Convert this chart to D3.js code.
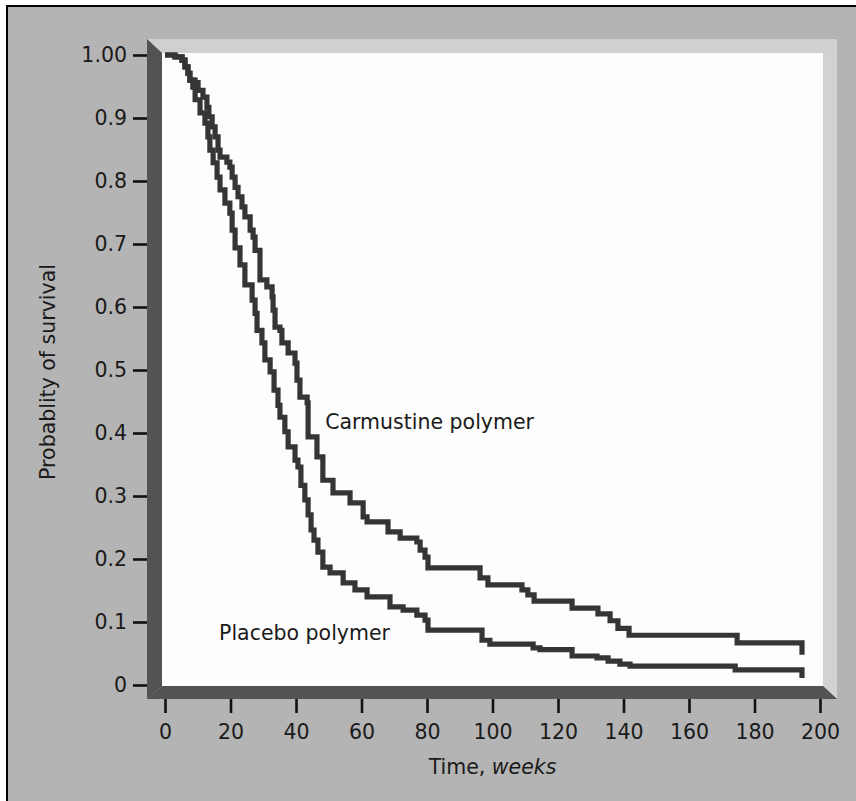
<!DOCTYPE html>
<html>
<head>
<meta charset="utf-8">
<script src="https://cdn.jsdelivr.net/npm/d3@7"></script>
<style>
  html, body { margin: 0; padding: 0; background: #ffffff; }
  svg { display: block; }
  text { font-family: "DejaVu Sans", sans-serif; fill: #1a1a1a; }
</style>
</head>
<body>
<svg id="chart" width="856" height="801"></svg>
<script>
// ---- data ----
const xTicks = [0, 20, 40, 60, 80, 100, 120, 140, 160, 180, 200];
const yTicks = [1.0, 0.9, 0.8, 0.7, 0.6, 0.5, 0.4, 0.3, 0.2, 0.1, 0];
const yTickLabels = ["1.00", "0.9", "0.8", "0.7", "0.6", "0.5", "0.4", "0.3", "0.2", "0.1", "0"];

const carmustineWeeks = [0, 3.05, 5.2, 6.1, 7.0, 7.6, 9.2, 10.1, 11.6, 12.8, 13.4, 14.4, 15.3, 16.2, 16.8,
  18.9, 19.8, 20.5, 21.4, 22.3, 23.5, 24.4, 26.0, 26.9, 27.5, 29.0, 31.1, 32.7, 33.0, 33.6,
  35.1, 35.7, 37.6, 39.7, 40.3, 41.2, 43.4, 43.7, 46.4, 48.2, 51.3, 56.5, 60.5, 61.7, 68.1,
  71.8, 76.9, 77.9, 79.4, 80.3, 96.2, 98.6, 109.0, 110.8, 112.7, 124.3, 132.2, 135.9, 138.3, 141.7,
  174.7, 194.5];
const carmustineSurvival = [1.0, 0.997, 0.992, 0.981, 0.971, 0.960, 0.956, 0.944, 0.933, 0.917, 0.902, 0.886, 0.870, 0.849, 0.838,
  0.830, 0.822, 0.806, 0.790, 0.775, 0.759, 0.743, 0.722, 0.711, 0.690, 0.643, 0.632, 0.616, 0.595, 0.568,
  0.563, 0.543, 0.527, 0.511, 0.484, 0.457, 0.448, 0.394, 0.362, 0.325, 0.305, 0.289, 0.267, 0.259, 0.243,
  0.233, 0.227, 0.214, 0.203, 0.186, 0.170, 0.159, 0.151, 0.143, 0.133, 0.122, 0.113, 0.102, 0.090, 0.079,
  0.067, 0.048];

const placeboWeeks = [0, 3.05, 5.2, 6.1, 7.0, 7.6, 8.5, 9.2, 10.7, 12.2, 13.1, 13.7, 14.7, 15.9, 16.8,
  18.3, 19.8, 20.5, 21.4, 22.9, 24.4, 26.6, 27.5, 28.1, 29.6, 30.5, 32.1, 33.3, 34.5, 35.1,
  36.6, 37.6, 39.7, 40.6, 41.5, 42.7, 43.7, 44.6, 45.5, 46.7, 48.2, 50.4, 54.4, 58.0, 61.7,
  68.7, 72.7, 76.9, 79.4, 80.3, 96.8, 99.2, 112.4, 114.5, 124.3, 131.9, 135.3, 138.9, 142.0, 174.1,
  194.5];
const placeboSurvival = [1.0, 0.997, 0.992, 0.981, 0.971, 0.960, 0.949, 0.929, 0.908, 0.892, 0.870, 0.849, 0.829, 0.806, 0.786,
  0.765, 0.749, 0.722, 0.694, 0.667, 0.635, 0.611, 0.590, 0.563, 0.543, 0.516, 0.497, 0.468, 0.444, 0.425,
  0.402, 0.378, 0.357, 0.346, 0.317, 0.294, 0.270, 0.246, 0.230, 0.211, 0.187, 0.178, 0.162, 0.151, 0.140,
  0.124, 0.119, 0.111, 0.103, 0.087, 0.071, 0.065, 0.059, 0.056, 0.046, 0.043, 0.038, 0.033, 0.030, 0.024,
  0.011];

const seriesLabels = ["Carmustine polymer", "Placebo polymer"];

// ---- layout ----
const svg = d3.select("#chart");
const x = d3.scaleLinear().domain([0, 200]).range([165, 820]);
const y = d3.scaleLinear().domain([0, 1]).range([685, 55]);

// page panel with black border (left/top visible)
svg.append("rect").attr("x", 7).attr("y", 6).attr("width", 900).attr("height", 900)
  .attr("fill", "#b4b4b4").attr("stroke", "#000").attr("stroke-width", 2);

// 3D frame
const inL = 162, inR = 823, inT = 53, inB = 686;
const outL = 147, outR = 837, outT = 39, outB = 699;
const poly = pts => "M" + pts.map(p => p.join(",")).join("L") + "Z";
svg.append("path").attr("d", poly([[outL, outT], [outR, outT], [inR, inT], [inL, inT]])).attr("fill", "#d0d0d0");
svg.append("path").attr("d", poly([[outR, outT], [outR, outB], [inR, inB], [inR, inT]])).attr("fill", "#d2d2d2");
svg.append("path").attr("d", poly([[outL, outT], [inL, inT], [inL, inB], [outL, outB]])).attr("fill", "#535353");
svg.append("path").attr("d", poly([[outL, outB], [inL, inB], [inR, inB], [outR, outB]])).attr("fill", "#535353");
svg.append("rect").attr("x", inL).attr("y", inT).attr("width", inR - inL).attr("height", inB - inT).attr("fill", "#fdfdfd");

// axes
const fs = "20.5px";
const yAxis = svg.append("g").attr("transform", `translate(${outL},0)`)
  .call(d3.axisLeft(y).tickValues(yTicks).tickSize(14).tickPadding(6)
    .tickFormat((d, i) => yTickLabels[i]));
yAxis.select(".domain").remove();
yAxis.selectAll(".tick line").attr("stroke", "#111").attr("stroke-width", 2.6);
yAxis.selectAll(".tick text").attr("font-size", fs).attr("font-family", "DejaVu Sans").attr("fill", "#1a1a1a");

const xAxis = svg.append("g").attr("transform", `translate(0,${outB})`)
  .call(d3.axisBottom(x).tickValues(xTicks).tickSize(14).tickPadding(11).tickFormat(d3.format("d")));
xAxis.select(".domain").remove();
xAxis.selectAll(".tick line").attr("stroke", "#111").attr("stroke-width", 2.6);
xAxis.selectAll(".tick text").attr("font-size", fs).attr("font-family", "DejaVu Sans").attr("fill", "#1a1a1a");

// axis titles
const xt = svg.append("text").attr("x", (x(0) + x(200)) / 2).attr("y", 774)
  .attr("text-anchor", "middle").attr("font-size", fs);
xt.append("tspan").text("Time, ");
xt.append("tspan").attr("font-style", "italic").text("weeks");

svg.append("text").attr("transform", "translate(55,372) rotate(-90)")
  .attr("text-anchor", "middle").attr("font-size", fs).text("Probablity of survival");

// curves
const line = d3.line().x(d => x(d[0])).y(d => y(d[1])).curve(d3.curveStepAfter);
const carm = carmustineWeeks.map((w, i) => [w, carmustineSurvival[i]]);
const plac = placeboWeeks.map((w, i) => [w, placeboSurvival[i]]);
[plac, carm].forEach(data => {
  svg.append("path").datum(data).attr("d", line)
    .attr("fill", "none").attr("stroke", "#353535").attr("stroke-width", 5.2)
    .attr("stroke-linejoin", "miter").attr("stroke-linecap", "butt");
});

// series labels
svg.append("text").attr("x", x(48.9)).attr("y", y(0.406)).attr("font-size", fs).text(seriesLabels[0]);
svg.append("text").attr("x", x(16.5)).attr("y", y(0.071)).attr("font-size", fs).text(seriesLabels[1]);
</script>
</body>
</html>
